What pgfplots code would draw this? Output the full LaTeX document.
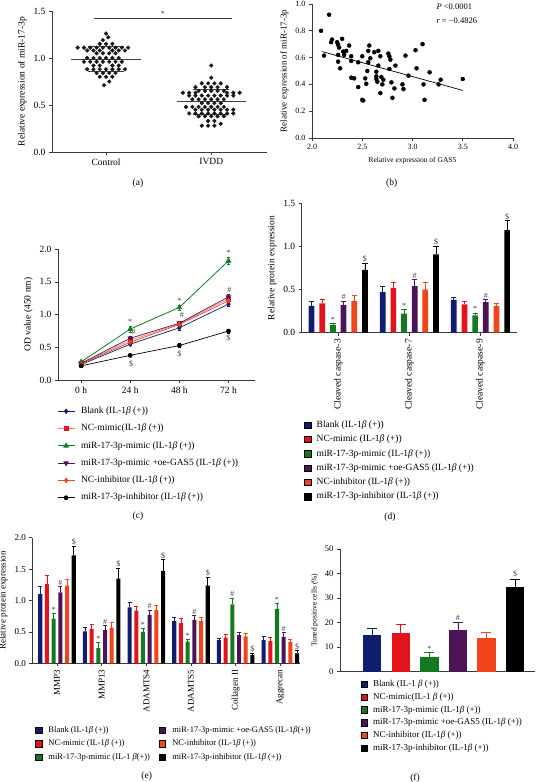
\documentclass[border=0pt]{standalone}
\usepackage{fontspec}
\setmainfont{Liberation Serif}
\usepackage{pgfplots}
\usepackage{pgfplotstable}
\pgfplotsset{compat=1.18}

\definecolor{cBlue}{HTML}{101C6E}
\definecolor{cRed}{HTML}{E3121B}
\definecolor{cGreen}{HTML}{137A1F}
\definecolor{cPurple}{HTML}{4A1456}
\definecolor{cOrange}{HTML}{F0441A}
\definecolor{cPink}{HTML}{F07A7A}
\definecolor{axc}{HTML}{3A3A3A}

\newcommand{\fs}[1]{\fontsize{#1}{#1}\selectfont}
\newcommand{\bet}{\textit{β}}

\pgfplotstableread{
g  bl   blE  nm   nmE  mm   mmE  oe    oeE  ni   niE  ih   ihE
1  0.31 0.05 0.34 0.05 0.09 0.02 0.32  0.05 0.37 0.06 0.73 0.08
2  0.47 0.07 0.52 0.07 0.22 0.05 0.54  0.08 0.50 0.08 0.91 0.09
3  0.38 0.03 0.33 0.03 0.20 0.03 0.355 0.03 0.31 0.03 1.19 0.11
}\tabD

\pgfplotstableread{
g  bl   blE  nm    nmE  mm    mmE  oe   oeE  ni    niE  ih    ihE
1  1.10 0.12 1.26  0.14 0.71  0.08 1.13 0.09 1.235 0.11 1.72  0.14
2  0.51 0.07 0.55  0.07 0.24  0.09 0.53 0.07 0.57  0.09 1.35  0.16
3  0.89 0.08 0.84  0.06 0.50  0.05 0.77 0.08 0.85  0.07 1.47  0.18
4  0.67 0.06 0.64  0.07 0.345 0.04 0.69 0.07 0.67  0.07 1.235 0.13
5  0.37 0.03 0.41  0.05 0.94  0.10 0.45 0.05 0.43  0.05 0.13  0.03
6  0.37 0.06 0.355 0.06 0.865 0.09 0.42 0.07 0.34  0.04 0.16  0.04
}\tabE

\pgfplotsset{
  gp/.style={scale only axis, anchor=south west, axis x line*=bottom, axis y line*=left,
    tick align=outside, axis line style={axc, line width=0.6pt},
    major tick style={axc, line width=0.6pt}, major tick length=3pt,
    clip=false, /pgf/number format/assume math mode=true},
  onedec/.style={yticklabel style={/pgf/number format/fixed, /pgf/number format/fixed zerofill, /pgf/number format/precision=1}},
  sqleg/.style={legend image code/.code={\fill[##1] (0pt,-3.2pt) rectangle (6.4pt,3.2pt);}},
}
\tikzset{anno/.style={font=\fs{8}, anchor=south, inner sep=0.8pt, text=black!75}}
\newcommand{\barw}{0.08}
\newcommand{\capw}{2.5pt}
\newcommand{\barplot}[5]{\addplot[ybar, bar width=\barw, bar shift=0pt, fill=#5, draw=none, forget plot,
   error bars/.cd, y dir=plus, y explicit, error bar style={#5, line width=0.6pt},
   error mark options={#5, rotate=90, mark size=\capw, line width=0.6pt}]
   table[x expr=\thisrow{g}+#4, y=#2, y error=#3]{#1};}

\begin{document}
\begin{tikzpicture}[x=1pt,y=1pt]
\path[use as bounding box] (0,0) rectangle (540,782);

%% ---------------- (a) ----------------
\begin{axis}[gp, onedec, at={(52pt,630pt)}, width=215pt, height=141pt,
  xmin=0.486, xmax=2.53, ymin=0, ymax=1.5,
  xtick={1,2}, xticklabels={Control,IVDD}, ytick={0,0.5,1,1.5},
  tick label style={font=\fs{9.5}}, label style={font=\fs{9.5}},
  ylabel={Relative expression of miR-17-3p}]
\addplot[only marks, mark=*, mark size=1.9pt, color=black!90] coordinates {
(1.00,1.26) (1.02,1.22) (0.97,1.19)
(0.94,1.15) (1.00,1.15) (1.06,1.15)
(0.73,1.11) (0.79,1.11) (0.85,1.11) (0.91,1.11) (0.97,1.11) (1.03,1.11) (1.09,1.11) (1.15,1.11) (1.21,1.11)
(0.82,1.08) (0.88,1.08) (0.94,1.08) (1.06,1.08) (1.12,1.08) (1.18,1.08)
(0.91,1.05) (0.97,1.05) (1.03,1.05) (1.09,1.05)
(0.82,1.00) (0.88,1.00) (0.94,1.00) (1.00,1.00) (1.06,1.00) (1.12,1.00)
(0.79,0.96) (0.85,0.96) (0.91,0.96) (0.97,0.96) (1.03,0.96) (1.09,0.96) (1.15,0.96)
(0.88,0.92) (0.94,0.92) (1.06,0.92) (1.12,0.92)
(0.82,0.88) (0.88,0.88) (0.94,0.88) (1.00,0.88) (1.06,0.88) (1.12,0.88) (1.18,0.88)
(0.91,0.84) (0.97,0.84) (1.03,0.84) (1.09,0.84)
(0.94,0.80) (1.00,0.80) (1.06,0.80)
(1.03,0.75) (0.98,0.71)
};
\addplot[only marks, mark=*, mark size=1.9pt, color=black!90] coordinates {
(2.00,0.92) (2.00,0.79)
(1.91,0.73) (1.97,0.73) (2.03,0.73) (2.09,0.73)
(1.85,0.69) (1.94,0.69) (2.00,0.69) (2.06,0.69) (2.15,0.69)
(1.88,0.65) (1.94,0.65) (2.00,0.65) (2.06,0.65) (2.12,0.65)
(1.73,0.63) (1.79,0.63) (1.85,0.63) (2.15,0.63) (2.21,0.63) (2.27,0.63)
(1.79,0.60) (1.85,0.60) (1.91,0.60) (1.97,0.60) (2.03,0.60) (2.09,0.60) (2.15,0.60) (2.21,0.60)
(1.82,0.56) (1.88,0.56) (1.94,0.56) (2.00,0.56) (2.06,0.56) (2.12,0.56)
(1.91,0.52) (1.97,0.52) (2.03,0.52) (2.09,0.52)
(1.76,0.48) (1.82,0.48) (1.88,0.48) (1.94,0.48) (2.00,0.48) (2.06,0.48) (2.12,0.48)
(1.85,0.45) (1.91,0.45) (1.97,0.45) (2.03,0.45) (2.09,0.45) (2.15,0.45) (2.21,0.45)
(1.79,0.41) (1.85,0.41) (1.91,0.41) (1.97,0.41) (2.03,0.41) (2.09,0.41) (2.15,0.41) (2.21,0.41)
(1.88,0.38) (1.94,0.38) (2.00,0.38) (2.06,0.38) (2.12,0.38)
(1.97,0.33) (2.03,0.33) (2.09,0.30)
(1.91,0.28) (1.97,0.28) (2.03,0.28)
};
\addplot[black!75, line width=0.8pt] coordinates {(0.67,0.99) (1.33,0.99)};
\addplot[black!75, line width=0.8pt] coordinates {(0.83,0.86) (1.17,0.86)};
\addplot[black!75, line width=0.8pt] coordinates {(0.83,1.12) (1.17,1.12)};
\addplot[black!75, line width=0.8pt] coordinates {(1.67,0.535) (2.33,0.535)};
\addplot[black!75, line width=0.8pt] coordinates {(1.83,0.40) (2.17,0.40)};
\addplot[black!75, line width=0.8pt] coordinates {(1.83,0.67) (2.17,0.67)};
\addplot[black!75, line width=0.8pt] coordinates {(0.886,1.425) (2.2,1.425)};
\node[anno] at (axis cs:1.54,1.43) {*};
\end{axis}
\node[font=\fs{9.5}] at (138,599) {(a)};

%% ---------------- (b) ----------------
\begin{axis}[gp, at={(312pt,644pt)}, width=201pt, height=134pt,
  xmin=2, xmax=4, ymin=0, ymax=1,
  xtick={2,2.5,3,3.5,4}, ytick={0,0.2,0.4,0.6,0.8,1.0},
  xticklabel style={/pgf/number format/fixed, /pgf/number format/fixed zerofill, /pgf/number format/precision=1},
  yticklabel style={/pgf/number format/fixed, /pgf/number format/fixed zerofill, /pgf/number format/precision=1},
  tick label style={font=\fs{8}}, xlabel style={font=\fs{7.5}}, ylabel style={font=\fs{9}},
  xlabel={Relative expression of GAS5}, ylabel={Relative expression of miR-17-3p}]
\addplot[only marks, mark=*, mark size=2pt, color=black] coordinates {
(2.09,0.80) (2.17,0.92) (2.12,0.615) (2.19,0.715) (2.20,0.735) (2.25,0.715) (2.26,0.695)
(2.27,0.675) (2.26,0.62) (2.26,0.57) (2.28,0.52) (2.30,0.74) (2.31,0.645) (2.32,0.62)
(2.34,0.65) (2.37,0.69) (2.39,0.61) (2.39,0.575) (2.39,0.45) (2.42,0.445) (2.46,0.565)
(2.46,0.38) (2.50,0.61) (2.50,0.285) (2.51,0.28) (2.53,0.445) (2.54,0.405) (2.55,0.50)
(2.56,0.565) (2.56,0.65) (2.57,0.69) (2.58,0.595) (2.62,0.64) (2.64,0.495) (2.64,0.46)
(2.64,0.44) (2.65,0.42) (2.66,0.65) (2.66,0.54) (2.68,0.61) (2.68,0.335) (2.69,0.455)
(2.70,0.40) (2.71,0.435) (2.76,0.63) (2.77,0.61) (2.77,0.515) (2.78,0.585) (2.79,0.415)
(2.80,0.30) (2.82,0.37) (2.83,0.54) (2.90,0.40) (2.91,0.365) (2.93,0.615) (2.96,0.465)
(3.03,0.655) (3.04,0.52) (3.10,0.70) (3.11,0.40) (3.12,0.285) (3.17,0.49) (3.26,0.40)
(3.28,0.435) (3.50,0.44)
};
\addplot[black, line width=0.7pt] coordinates {(2.1,0.645) (3.5,0.355)};
\end{axis}
\node[font=\fs{8.5}, anchor=west] at (433,775) {\textit{P} <0.0001};
\node[font=\fs{8.5}, anchor=west] at (433,761) {\textit{r} = −0.4826};
\node[font=\fs{9.5}] at (391.7,599) {(b)};

%% ---------------- (c) ----------------
\begin{axis}[gp, onedec, at={(58pt,401.7pt)}, width=197pt, height=131.3pt,
  xmin=-0.47, xmax=3.54, ymin=0, ymax=2,
  xtick={0,1,2,3}, xticklabels={0 h,24 h,48 h,72 h}, ytick={0,0.5,1,1.5,2},
  tick label style={font=\fs{9.5}}, label style={font=\fs{9.5}},
  ylabel={OD value (450 nm)},
  legend image code/.code={\draw[mark repeat=2,mark phase=2,#1] plot coordinates {(0pt,0pt) (8.5pt,0pt) (17pt,0pt)};},
  legend cell align=left,
  legend style={at={(axis description cs:-0.005,-0.198)}, anchor=north west, draw=none, fill=none,
    inner sep=0pt, row sep=7.8pt, font=\fs{9.5},
    nodes={inner sep=0pt, text height=7pt, text depth=2.5pt},
    /tikz/every odd column/.append style={column sep=6pt}}]
\addplot[cBlue, line width=0.7pt, mark=diamond*, mark size=2.3pt,
  error bars/.cd, y dir=both, y explicit, error bar style={cBlue}, error mark options={cBlue, rotate=90, mark size=1.5pt}]
  coordinates {(0,0.24) +- (0,0.02) (1,0.55) +- (0,0.02) (2,0.80) +- (0,0.03) (3,1.16) +- (0,0.03)};
\addlegendentry{Blank (IL-1\bet\ (+))}
\addplot[cPink, line width=0.7pt, mark=square*, mark size=2pt, mark options={cRed, fill=cRed},
  error bars/.cd, y dir=both, y explicit, error bar style={cRed}, error mark options={cRed, rotate=90, mark size=1.5pt}]
  coordinates {(0,0.25) +- (0,0.02) (1,0.61) +- (0,0.03) (2,0.86) +- (0,0.03) (3,1.24) +- (0,0.04)};
\addlegendentry{NC-mimic(IL-1\bet\ (+))}
\addplot[cGreen, line width=0.8pt, mark=triangle*, mark size=2.6pt,
  error bars/.cd, y dir=both, y explicit, error bar style={cGreen}, error mark options={cGreen, rotate=90, mark size=1.5pt}]
  coordinates {(0,0.28) +- (0,0.02) (1,0.78) +- (0,0.04) (2,1.11) +- (0,0.04) (3,1.82) +- (0,0.05)};
\addlegendentry{miR-17-3p-mimic (IL-1\bet\ (+))}
\addplot[cPurple, line width=0.7pt, mark=triangle*, mark size=2.6pt, mark options={rotate=180},
  error bars/.cd, y dir=both, y explicit, error bar style={cPurple}, error mark options={cPurple, rotate=90, mark size=1.5pt}]
  coordinates {(0,0.26) +- (0,0.02) (1,0.64) +- (0,0.03) (2,0.87) +- (0,0.03) (3,1.27) +- (0,0.04)};
\addlegendentry{miR-17-3p-mimic +oe-GAS5 (IL-1\bet\ (+))}
\addplot[cOrange, line width=0.7pt, mark=diamond*, mark size=2.3pt,
  error bars/.cd, y dir=both, y explicit, error bar style={cOrange}, error mark options={cOrange, rotate=90, mark size=1.5pt}]
  coordinates {(0,0.25) +- (0,0.02) (1,0.58) +- (0,0.03) (2,0.85) +- (0,0.03) (3,1.21) +- (0,0.03)};
\addlegendentry{NC-inhibitor (IL-1\bet\ (+))}
\addplot[black, line width=0.7pt, mark=*, mark size=2pt,
  error bars/.cd, y dir=both, y explicit, error bar style={black}, error mark options={black, rotate=90, mark size=1.5pt}]
  coordinates {(0,0.22) +- (0,0.02) (1,0.38) +- (0,0.02) (2,0.53) +- (0,0.03) (3,0.75) +- (0,0.03)};
\addlegendentry{miR-17-3p-inhibitor (IL-1\bet\ (+))}
\node[anno] at (axis cs:1,0.83) {*};
\node[anno] at (axis cs:2,1.16) {*};
\node[anno] at (axis cs:3,1.88) {*};
\node[font=\fs{8}, text=black!75] at (axis cs:1.07,0.73) {\#};
\node[font=\fs{8}, text=black!75] at (axis cs:2.05,1.00) {\#};
\node[font=\fs{8}, text=black!75] at (axis cs:3.02,1.38) {\#};
\node[font=\fs{8}, text=black!75] at (axis cs:1.02,0.25) {\$};
\node[font=\fs{8}, text=black!75] at (axis cs:2.0,0.40) {\$};
\node[font=\fs{8}, text=black!75] at (axis cs:3.0,0.64) {\$};
\end{axis}
\node[font=\fs{9.5}] at (138,265.3) {(c)};

%% ---------------- (d) ----------------
\renewcommand{\barw}{0.08}\renewcommand{\capw}{2.6pt}
\begin{axis}[gp, onedec, sqleg, at={(301.7pt,449.3pt)}, width=215pt, height=129.3pt,
  xmin=0.486, xmax=3.51, ymin=0, ymax=1.5,
  xtick={1,2,3}, xticklabels={Cleaved caspase-3,Cleaved caspase-7,Cleaved caspase-9},
  xticklabel style={rotate=90, anchor=east}, ytick={0,0.5,1,1.5},
  tick label style={font=\fs{9.5}}, label style={font=\fs{9.5}},
  ylabel={Relative protein expression},
  legend cell align=left,
  legend style={at={(axis description cs:0.011,-0.677)}, anchor=north west, draw=none, fill=none,
    inner sep=0pt, row sep=4.8pt, font=\fs{9.5},
    nodes={inner sep=0pt, text height=7pt, text depth=2.5pt},
    /tikz/every odd column/.append style={column sep=5.6pt}}]
\barplot{\tabD}{bl}{blE}{-0.375}{cBlue}
\barplot{\tabD}{nm}{nmE}{-0.225}{cRed}
\barplot{\tabD}{mm}{mmE}{-0.075}{cGreen}
\barplot{\tabD}{oe}{oeE}{0.075}{cPurple}
\barplot{\tabD}{ni}{niE}{0.225}{cOrange}
\barplot{\tabD}{ih}{ihE}{0.375}{black}
\addlegendimage{fill=cBlue}\addlegendentry{Blank (IL-1\bet\ (+))}
\addlegendimage{fill=cRed}\addlegendentry{NC-mimic (IL-1\bet\ (+))}
\addlegendimage{fill=cGreen}\addlegendentry{miR-17-3p-mimic (IL-1\bet\ (+))}
\addlegendimage{fill=cPurple}\addlegendentry{miR-17-3p-mimic +oe-GAS5 (IL-1\bet\ (+))}
\addlegendimage{fill=cOrange}\addlegendentry{NC-inhibitor (IL-1\bet\ (+))}
\addlegendimage{fill=black}\addlegendentry{miR-17-3p-inhibitor (IL-1\bet\ (+))}
\node[anno] at (axis cs:0.925,0.11) {*};
\node[anno] at (axis cs:1.925,0.27) {*};
\node[anno] at (axis cs:2.925,0.23) {*};
\node[anno] at (axis cs:1.075,0.37) {\#};
\node[anno] at (axis cs:2.075,0.62) {\#};
\node[anno] at (axis cs:3.075,0.385) {\#};
\node[anno] at (axis cs:1.375,0.81) {\$};
\node[anno] at (axis cs:2.375,1.00) {\$};
\node[anno] at (axis cs:3.375,1.30) {\$};
\end{axis}
\node[font=\fs{9.5}] at (390,264.7) {(d)};

%% ---------------- (e) ----------------
\renewcommand{\barw}{0.09}\renewcommand{\capw}{2pt}
\begin{axis}[gp, onedec, sqleg, at={(32.3pt,118.7pt)}, width=267.7pt, height=125.6pt,
  xmin=0.447, xmax=6.44, ymin=0, ymax=2,
  xtick={1,2,3,4,5,6}, xticklabels={MMP3,MMP13,ADAMTS4,ADAMTS5,Collagen II,Aggrecan},
  xticklabel style={rotate=90, anchor=east}, ytick={0,0.5,1,1.5,2},
  tick label style={font=\fs{9}}, label style={font=\fs{9}},
  ylabel={Relative protein expression},
  legend columns=2, legend cell align=left,
  legend style={at={(axis description cs:0.01,-0.496)}, anchor=north west, draw=none, fill=none,
    inner sep=0pt, row sep=4.9pt, font=\fs{8.5},
    nodes={inner sep=0pt, text height=6.5pt, text depth=2.2pt},
    /tikz/every odd column/.append style={column sep=6.5pt},
    /tikz/every even column/.append style={column sep=9pt}}]
\barplot{\tabE}{bl}{blE}{-0.375}{cBlue}
\barplot{\tabE}{nm}{nmE}{-0.225}{cRed}
\barplot{\tabE}{mm}{mmE}{-0.075}{cGreen}
\barplot{\tabE}{oe}{oeE}{0.075}{cPurple}
\barplot{\tabE}{ni}{niE}{0.225}{cOrange}
\barplot{\tabE}{ih}{ihE}{0.375}{black}
\addlegendimage{fill=cBlue}\addlegendentry{Blank (IL-1\bet\ (+))}
\addlegendimage{fill=cPurple}\addlegendentry{miR-17-3p-mimic +oe-GAS5 (IL-1\bet(+))}
\addlegendimage{fill=cRed}\addlegendentry{NC-mimic (IL-1\bet\ (+))}
\addlegendimage{fill=cOrange}\addlegendentry{NC-inhibitor (IL-1\bet\ (+))}
\addlegendimage{fill=cGreen}\addlegendentry{miR-17-3p-mimic (IL-1 \bet(+))}
\addlegendimage{fill=black}\addlegendentry{miR-17-3p-inhibitor (IL-1\bet\ (+))}
\node[anno] at (axis cs:0.925,0.79) {*};
\node[anno] at (axis cs:1.925,0.33) {*};
\node[anno] at (axis cs:2.925,0.55) {*};
\node[anno] at (axis cs:3.925,0.385) {*};
\node[anno] at (axis cs:4.925,1.04) {\#};
\node[anno] at (axis cs:5.925,0.955) {*};
\node[anno] at (axis cs:1.075,1.22) {\#};
\node[anno] at (axis cs:2.075,0.60) {\#};
\node[anno] at (axis cs:3.075,0.85) {\#};
\node[anno] at (axis cs:4.075,0.76) {\#};
\node[anno] at (axis cs:6.075,0.49) {\#};
\node[anno] at (axis cs:1.375,1.86) {\$};
\node[anno] at (axis cs:2.375,1.51) {\$};
\node[anno] at (axis cs:3.375,1.65) {\$};
\node[anno] at (axis cs:4.375,1.365) {\$};
\node[anno] at (axis cs:5.375,0.16) {\$};
\node[anno] at (axis cs:6.375,0.20) {\$};
\end{axis}
\node[font=\fs{9.5}] at (146.7,6) {(e)};

%% ---------------- (f) ----------------
\begin{axis}[gp, sqleg, at={(340pt,110.3pt)}, width=195pt, height=122.7pt,
  xmin=-0.133, xmax=6.70, ymin=0, ymax=50,
  xtick=\empty, ytick={0,10,20,30,40,50},
  tick label style={font=\fs{8.5}}, label style={font=\fs{7.5}},
  ylabel={Tuned positive cells (\%)},
  legend cell align=left,
  legend style={at={(axis description cs:0.106,-0.062)}, anchor=north west, draw=none, fill=none,
    inner sep=0pt, row sep=3.5pt, font=\fs{9},
    nodes={inner sep=0pt, text height=6.9pt, text depth=2.4pt},
    /tikz/every odd column/.append style={column sep=5.4pt}}]
\addplot[ybar, bar width=0.64, bar shift=0pt, fill=cBlue, draw=none, forget plot, error bars/.cd, y dir=plus, y explicit,
  error bar style={cBlue, line width=0.8pt}, error mark options={cBlue, rotate=90, mark size=5pt, line width=0.8pt}]
  coordinates {(1,14.9) +- (0,2.8)};
\addplot[ybar, bar width=0.64, bar shift=0pt, fill=cRed, draw=none, forget plot, error bars/.cd, y dir=plus, y explicit,
  error bar style={cRed, line width=0.8pt}, error mark options={cRed, rotate=90, mark size=5pt, line width=0.8pt}]
  coordinates {(2,15.6) +- (0,3.7)};
\addplot[ybar, bar width=0.64, bar shift=0pt, fill=cGreen, draw=none, forget plot, error bars/.cd, y dir=plus, y explicit,
  error bar style={cGreen, line width=0.8pt}, error mark options={cGreen, rotate=90, mark size=5pt, line width=0.8pt}]
  coordinates {(3,6.0) +- (0,1.7)};
\addplot[ybar, bar width=0.64, bar shift=0pt, fill=cPurple, draw=none, forget plot, error bars/.cd, y dir=plus, y explicit,
  error bar style={cPurple, line width=0.8pt}, error mark options={cPurple, rotate=90, mark size=5pt, line width=0.8pt}]
  coordinates {(4,16.8) +- (0,3.2)};
\addplot[ybar, bar width=0.64, bar shift=0pt, fill=cOrange, draw=none, forget plot, error bars/.cd, y dir=plus, y explicit,
  error bar style={cOrange, line width=0.8pt}, error mark options={cOrange, rotate=90, mark size=5pt, line width=0.8pt}]
  coordinates {(5,13.6) +- (0,2.4)};
\addplot[ybar, bar width=0.64, bar shift=0pt, fill=black, draw=none, forget plot, error bars/.cd, y dir=plus, y explicit,
  error bar style={black, line width=0.8pt}, error mark options={black, rotate=90, mark size=5pt, line width=0.8pt}]
  coordinates {(6,34.4) +- (0,3.4)};
\addlegendimage{fill=cBlue}\addlegendentry{Blank (IL-1 \bet\ (+))}
\addlegendimage{fill=cRed}\addlegendentry{NC-mimic(IL-1 \bet\ (+))}
\addlegendimage{fill=cGreen}\addlegendentry{miR-17-3p-mimic (IL-1\bet\ (+))}
\addlegendimage{fill=cPurple}\addlegendentry{miR-17-3p-mimic +oe-GAS5 (IL-1\bet\ (+))}
\addlegendimage{fill=cOrange}\addlegendentry{NC-inhibitor (IL-1\bet\ (+))}
\addlegendimage{fill=black}\addlegendentry{miR-17-3p-inhibitor (IL-1\bet\ (+))}
\node[anno] at (axis cs:3,7.9) {*};
\node[anno] at (axis cs:4,20.3) {\#};
\node[anno] at (axis cs:6,38.2) {\$};
\end{axis}
\node[font=\fs{9.5}] at (415,4) {(f)};
\end{tikzpicture}
\end{document}
